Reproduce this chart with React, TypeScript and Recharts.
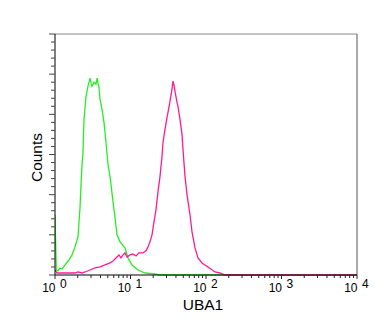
import { LineChart, Line, XAxis, YAxis, ReferenceLine } from "recharts"

// decade ticks on the log fluorescence axis
const decades = [1, 10, 100, 1000, 10000]
const decadeExponents = ["0", "1", "2", "3", "4"]

// control histogram (green)
const controlChannel = [
  1, 1.04, 1.096, 1.165, 1.238, 1.357, 1.532, 1.68, 1.84, 2.016, 2.144, 2.211, 2.279, 2.349,
  2.422, 2.574, 2.736, 2.908, 2.999, 3.091, 3.286, 3.493, 3.6, 3.712, 3.826, 3.945, 4.193,
  4.457, 4.737, 5.035, 5.352, 5.517, 5.865, 6.233, 6.625, 7.261, 8.456, 9.266, 10.47, 12.57,
  15.56, 21.11, 24.59, 10000,
]
const controlCount = [
  60, 5, 4, 7, 6, 10, 15, 20, 28, 38, 67, 90, 110, 122,
  155, 178, 188, 196, 191, 188, 192, 190, 196, 191, 187, 175, 165,
  152, 132, 110, 98, 90, 73, 57, 40, 33, 27, 17, 10, 5,
  2, 1, 0, 0,
]

// UBA1 stained histogram (magenta)
const uba1Channel = [
  1, 1.063, 1.357, 1.84, 2.016, 2.279, 2.497, 2.908, 3.387, 3.945, 4.595, 5.352, 5.865, 6.425,
  7.043, 7.485, 7.955, 8.456, 8.986, 9.849, 10.79, 11.83, 12.96, 14.64, 16.05, 17.05, 18.13,
  19.27, 20.48, 21.76, 23.13, 24.59, 26.13, 26.94, 28.64, 30.44, 31.38, 33.36, 35.45, 36.55,
  37.68, 38.85, 41.29, 42.57, 45.25, 48.1, 49.59, 52.71, 56.03, 61.4, 65.26, 71.51, 78.34,
  88.51, 106.3, 131.6, 153.2, 178.5, 10000,
]
const uba1Count = [
  5, 2, 2, 2, 3, 2, 3, 5, 7, 8, 10, 12, 14, 17,
  20, 17, 20, 22, 18, 20, 21, 19, 22, 22, 24, 28, 33,
  40, 53, 65, 83, 98, 118, 132, 145, 157, 162, 173, 185, 193,
  189, 183, 172, 168, 155, 140, 125, 98, 80, 60, 43, 27, 17,
  12, 8, 3, 2, 0, 0,
]

const controlData = controlChannel.map((x, i) => ({ x, y: controlCount[i] }))
const uba1Data = uba1Channel.map((x, i) => ({ x, y: uba1Count[i] }))

const xTicks = decades.flatMap((d, i) =>
  i < decades.length - 1 ? [d, 2 * d, 3 * d, 4 * d, 5 * d, 6 * d, 7 * d, 8 * d, 9 * d] : [d]
)
const yTicks = Array.from({ length: 31 }, (_, i) => i * 8)

const font = "'Liberation Sans', Arial, sans-serif"

function ChannelTick({ x, y, payload }: any) {
  const idx = decades.indexOf(payload.value)
  return (
    <g>
      <line x1={x} x2={x} y1={y} y2={y + (idx >= 0 ? 4 : 3)} stroke="#222" />
      {idx >= 0 && (
        <>
          <text x={x + 0.5} y={y + 17} textAnchor="end" fontSize={12} fontFamily={font} fill="#000">
            10
          </text>
          <text x={x + 5} y={y + 13} fontSize={12} fontFamily={font} fill="#000">
            {decadeExponents[idx]}
          </text>
        </>
      )}
    </g>
  )
}

function CountTick({ x, y, payload }: any) {
  const major = payload.value % 40 === 0
  return <line x1={x - (major ? 6 : 4)} x2={x} y1={y} y2={y} stroke="#444" />
}

export default function App() {
  return (
    <div style={{ position: "absolute", left: 0, top: 0, background: "#fff" }}>
      <LineChart width={392} height={330} margin={{ top: 34, right: 35, bottom: 25, left: 35 }}>
        <XAxis
          dataKey="x"
          type="number"
          scale="log"
          domain={[1, 10000]}
          allowDataOverflow
          ticks={xTicks}
          interval={0}
          tick={<ChannelTick />}
          tickLine={false}
          tickSize={0}
          tickMargin={0}
          height={30}
          stroke="#000"
          label={{
            content: () => (
              <text x={203} y={310} textAnchor="middle" fontSize={15.5} fontFamily={font} fill="#000">
                UBA1
              </text>
            ),
          }}
        />
        <YAxis
          type="number"
          domain={[0, 240]}
          ticks={yTicks}
          interval={0}
          tick={<CountTick />}
          tickLine={false}
          tickSize={0}
          tickMargin={0}
          width={20}
          stroke="#000"
          label={{
            content: () => (
              <text
                x={41.5}
                y={157.5}
                transform="rotate(-90 41.5 157.5)"
                textAnchor="middle"
                fontSize={15.5}
                fontFamily={font}
                fill="#000"
              >
                Counts
              </text>
            ),
          }}
        />
        <ReferenceLine y={240} stroke="#888" />
        <ReferenceLine x={10000} stroke="#555" />
        <Line
          data={controlData}
          dataKey="y"
          type="linear"
          stroke="#22f022"
          strokeWidth={1.3}
          dot={false}
          isAnimationActive={false}
        />
        <Line
          data={uba1Data}
          dataKey="y"
          type="linear"
          stroke="#ff1a94"
          strokeWidth={1.3}
          dot={false}
          isAnimationActive={false}
        />
      </LineChart>
    </div>
  )
}
